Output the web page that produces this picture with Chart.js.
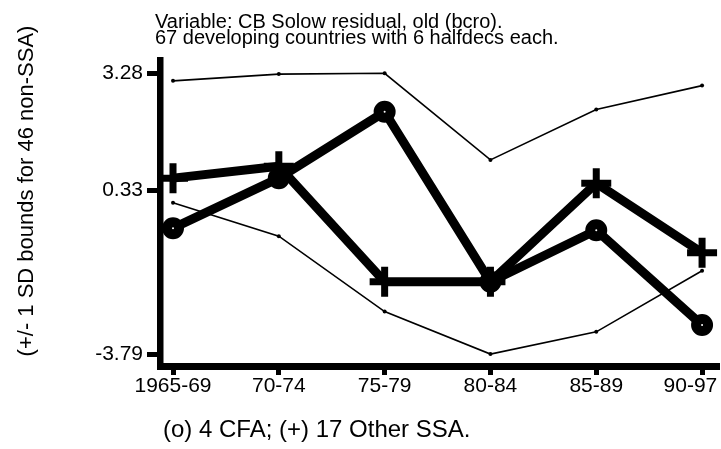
<!DOCTYPE html>
<html>
<head>
<meta charset="utf-8">
<script src="https://cdn.jsdelivr.net/npm/chart.js@4/dist/chart.umd.min.js"></script>
<style>
  html, body { margin: 0; padding: 0; background: #fff; }
  #wrap { width: 721px; height: 449px; position: relative; }
</style>
</head>
<body>
<div id="wrap"><canvas id="solowChart"></canvas></div>
<script>
// half-decade periods on the x axis
const periods = ["1965-69", "70-74", "75-79", "80-84", "85-89", "90-97"];

// group means of the Solow residual
const cfa = [-0.62, 0.64, 2.31, -1.97, -0.67, -3.06];
const otherSsa = [0.64, 0.94, -1.97, -1.97, 0.51, -1.24];

// +/- 1 SD band for the non-SSA countries
const upperBound = [3.09, 3.26, 3.28, 1.10, 2.37, 2.97];
const lowerBound = [0.02, -0.82, -2.72, -3.79, -3.23, -1.69];

const yTickValues = [3.28, 0.33, -3.79];

const titleLines = [
  "Variable: CB Solow residual, old (bcro).",
  "67 developing countries with 6 halfdecs each."
];
const yTitle = "(+/- 1 SD bounds for 46 non-SSA)";
const xTitle = "(o) 4 CFA; (+) 17 Other SSA.";

const FONT = '"Liberation Sans", Arial, sans-serif';

const toPoints = (vals) => vals.map((v, i) => ({ x: i, y: v }));

// free-standing labels: heading, rotated y title and the key underneath
const annotationText = {
  id: "annotationText",
  afterDraw(chart) {
    const ctx = chart.ctx;
    ctx.save();
    ctx.fillStyle = "#000";
    ctx.textBaseline = "alphabetic";
    ctx.textAlign = "left";
    ctx.font = "20px " + FONT;
    ctx.fillText(titleLines[0], 155, 28);
    ctx.fillText(titleLines[1], 155, 44);
    ctx.font = "24px " + FONT;
    ctx.fillText(xTitle, 163, 437);
    ctx.translate(33, 191);
    ctx.rotate(-Math.PI / 2);
    ctx.textAlign = "center";
    ctx.font = "22px " + FONT;
    ctx.fillText(yTitle, 0, 0);
    ctx.restore();
  }
};

const thinLine = (vals, order) => ({
  data: toPoints(vals),
  borderColor: "#000",
  borderWidth: 1.6,
  pointRadius: 2,
  pointBorderWidth: 0,
  pointBackgroundColor: "#000",
  order: order
});

// keep the plot area edge-to-edge, ignoring label overhang
const noOverhang = (s) => {
  s.paddingLeft = 0;
  s.paddingRight = 0;
  s.paddingTop = 0;
  s.paddingBottom = 0;
};

new Chart(document.getElementById("solowChart"), {
  type: "line",
  data: {
    datasets: [
      {
        label: "CFA",
        data: toPoints(cfa),
        borderColor: "#000",
        borderWidth: 9,
        borderJoinStyle: "round",
        borderCapStyle: "round",
        pointStyle: "circle",
        pointRadius: 6,
        pointBorderWidth: 10,
        pointBackgroundColor: "#fff",
        pointBorderColor: "#000",
        order: 1
      },
      {
        label: "Other SSA",
        data: toPoints(otherSsa),
        borderColor: "#000",
        borderWidth: 9,
        borderJoinStyle: "round",
        borderCapStyle: "round",
        pointStyle: "cross",
        pointRadius: 15,
        pointBorderWidth: 7,
        pointBorderColor: "#000",
        order: 0
      },
      thinLine(upperBound, 2),
      thinLine(lowerBound, 3)
    ]
  },
  options: {
    responsive: true,
    maintainAspectRatio: false,
    animation: false,
    events: [],
    clip: false,
    layout: { autoPadding: false, padding: { top: 60, right: 2, left: 0, bottom: 0 } },
    plugins: {
      legend: { display: false },
      tooltip: { enabled: false },
      title: { display: false }
    },
    scales: {
      x: {
        type: "linear",
        min: -0.123,
        max: 5.16,
        afterBuildTicks: (s) => { s.ticks = periods.map((_, i) => ({ value: i })); },
        afterFit: (s) => { s.height = 83; noOverhang(s); },
        grid: { drawOnChartArea: false, tickLength: 9, tickWidth: 5, tickColor: "#000" },
        border: { color: "#000", width: 7 },
        ticks: {
          color: "#000",
          font: { family: FONT, size: 21 },
          padding: -1,
          maxRotation: 0,
          autoSkip: false,
          // trailing no-break spaces nudge the last label back inside the canvas
          callback: (v) => (v === periods.length - 1 ? periods[v] + "\u00a0\u00a0\u00a0\u00a0" : periods[v])
        }
      },
      y: {
        min: -4.09,
        max: 3.615,
        afterBuildTicks: (s) => { s.ticks = yTickValues.map((v) => ({ value: v })); },
        afterFit: (s) => { s.width = 160; noOverhang(s); },
        grid: { drawOnChartArea: false, tickLength: 13, tickWidth: 5, tickColor: "#000" },
        border: { color: "#000", width: 6.5 },
        ticks: {
          color: "#000",
          font: { family: FONT, size: 21 },
          padding: 4,
          callback: (v) => v.toFixed(2)
        }
      }
    }
  },
  plugins: [annotationText]
});
</script>
</body>
</html>
